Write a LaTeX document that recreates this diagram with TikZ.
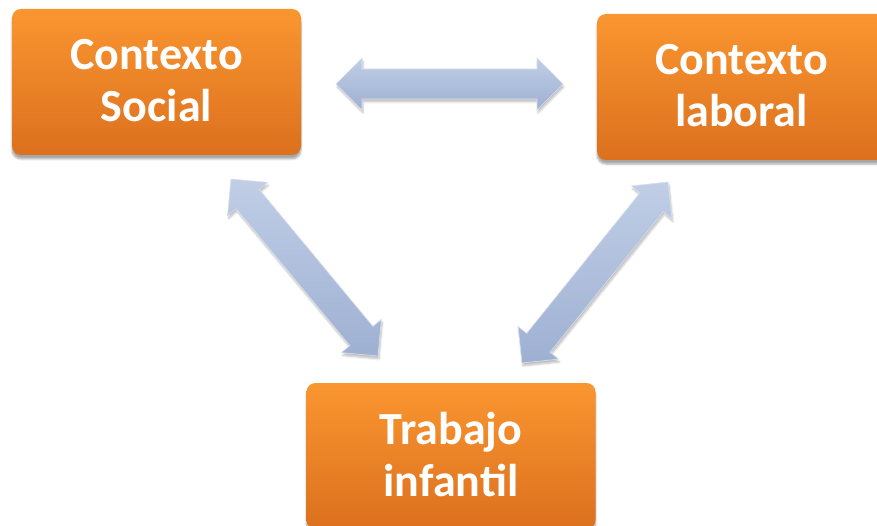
\documentclass[tikz,border=0pt]{standalone}
\usepackage{fontspec}
\setmainfont{Carlito}
\usetikzlibrary{calc,shadows.blur}
\definecolor{boxtop}{RGB}{250,150,48}
\definecolor{boxbot}{RGB}{220,112,30}
\definecolor{arrtop}{RGB}{192,206,230}
\definecolor{arrbot}{RGB}{158,176,210}
\tikzset{
  ctxbox/.style={rounded corners=9pt, minimum width=289pt, minimum height=146pt,
    top color=boxtop, bottom color=boxbot, draw=none,
    blur shadow={shadow xshift=0pt, shadow yshift=-4pt, shadow blur steps=6, shadow opacity=35},
    text=white, align=center, text depth=4pt, font=\fontsize{46}{54}\selectfont\bfseries},
  blockarr/.style={top color=arrtop, bottom color=arrbot, draw=white!60!arrbot, line width=0.6pt,
    blur shadow={shadow xshift=1pt, shadow yshift=-3pt, shadow blur steps=5, shadow opacity=25}}
}
% double block arrow between two named coordinates
\newcommand\dblblock[2]{%
  \coordinate (#1#2h1) at ($(#1)!26pt!(#2)$);
  \coordinate (#1#2h2) at ($(#2)!26pt!(#1)$);
  \path[blockarr] (#1)
    -- ($(#1#2h1)!26pt!90:(#2)$) -- ($(#1#2h1)!15pt!90:(#2)$)
    -- ($(#1#2h2)!15pt!-90:(#1)$) -- ($(#1#2h2)!26pt!-90:(#1)$)
    -- (#2)
    -- ($(#1#2h2)!26pt!90:(#1)$) -- ($(#1#2h2)!15pt!90:(#1)$)
    -- ($(#1#2h1)!15pt!-90:(#2)$) -- ($(#1#2h1)!26pt!-90:(#2)$)
    -- cycle;}
\begin{document}
\begin{tikzpicture}[x=1pt,y=-1pt]
\useasboundingbox (0,0) rectangle (877,526);
\node[ctxbox] (soc) at (156.5,82) {Contexto\\[-2pt]Social};
\node[ctxbox] (lab) at (741.5,87) {Contexto\\[-2pt]laboral};
\node[ctxbox] (tra) at (451,456) {Trabajo\\[-2pt]infantil};
\coordinate (sR) at (336,84);
\coordinate (lL) at (563,84);
\coordinate (sB) at (231,179);
\coordinate (tL) at (378,356);
\coordinate (lB) at (668,182);
\coordinate (tR) at (522,363);
\dblblock{sR}{lL}
\dblblock{sB}{tL}
\dblblock{lB}{tR}
\end{tikzpicture}
\end{document}
